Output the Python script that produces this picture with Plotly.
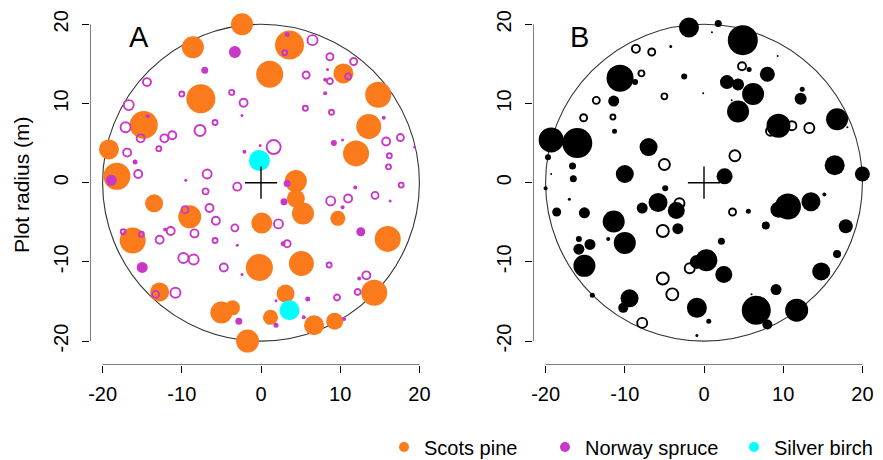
import plotly.graph_objects as go

W, H = 883, 460
FONT = "Liberation Sans, Arial, sans-serif"

# ---------------- Panel A ----------------
# Scots pine (filled, orange): x, y, marker diameter (px)
pine_x = [-2.4, -8.6, 1.1, -7.6, -14.8, -19.2, -18.2, 3.6, 10.4, 14.8, 13.6, 12.0, 4.4,
          -13.5, -9.0, -16.2, 0.1, -0.2, -12.8, -5.0, -3.6, -1.7, 4.4, 5.3, 9.7, 16.0,
          5.1, 3.1, 14.3, 1.2, 6.7, 9.3]
pine_y = [20.0, 17.1, 13.7, 10.6, 7.3, 4.2, 0.8, 17.4, 13.8, 11.1, 7.1, 3.7, 0.2,
          -2.6, -4.3, -7.3, -5.1, -10.7, -13.8, -16.4, -15.8, -20.0, -2.0, -3.9, -4.5, -7.1,
          -10.2, -14.0, -13.9, -17.0, -18.0, -17.5]
pine_d = [22, 22, 27, 29, 28, 20, 27, 29, 20, 26, 25, 26, 22,
          18, 23, 26, 21, 27, 19, 22, 15, 23, 18, 22, 15, 26,
          25, 18, 26, 15, 20, 17]

# Norway spruce, living (filled, magenta)
spruce_x = [-3.3, -7.1, -14.3, -18.9, -15.9, -2.4, -2.1, -9.5, -0.1,
            3.3, 8.4, 8.1, 8.1, 15.5, 9.2, 10.3, 19.4, 3.3, 11.9,
            -15.0, -2.8, -3.0, -2.4, -12.1,
            2.9, 12.6, 10.3, 16.3, 2.8, 12.4, 5.9, 1.9, 5.4, 1.9, 10.5]
spruce_y = [16.5, 14.2, 8.4, 0.3, 2.6, 8.5, 3.9, 0.3, 4.7,
            18.7, 14.3, 13.0, 11.3, 8.2, 5.0, 5.4, 4.5, -0.1, -0.6,
            -10.7, -17.5, -7.9, -11.6, -5.9,
            -2.4, -6.2, -3.1, -2.3, -7.7, -12.1, -14.7, -14.9, -17.0, -18.0, -17.2]
spruce_d = [12, 7, 4, 11, 5, 3, 4, 3, 3,
            5, 3, 4, 4, 4, 6, 3, 3, 7, 4,
            11, 7, 3, 3, 4,
            7, 9, 4, 3, 5, 4, 5, 3, 4, 5, 4]

# Norway spruce, dead (open, magenta)
spruce_dead_x = [-14.4, -10.0, -3.7, -2.2, -16.7, -17.1, -15.2, -12.2, -11.2, -7.7, -5.8, -12.9,
                 -16.9, -15.5, -6.8, -3.0,
                 3.0, 6.5, 8.7, 11.7, 5.7, 8.7, 11.0, 5.6, 8.9, 1.6, 15.8, 17.6, 16.2, 16.1, 17.7,
                 -5.8, -17.4, -15.1, -7.0, -6.5, -9.6, -5.7, -8.4, -3.3, -11.4, -12.8, -9.8, -8.5,
                 -4.7, -13.3, -10.8,
                 2.2, 3.3, 8.8, 11.0, 14.4, 8.6, 13.3, 12.2, 9.6]
spruce_dead_y = [12.7, 11.2, 11.4, 10.1, 9.8, 7.0, 5.6, 5.6, 6.0, 6.6, 7.6, 4.3,
                 3.8, 1.1, 1.1, -0.5,
                 16.4, 18.0, 15.9, 15.3, 13.6, 12.8, 13.4, 9.4, 8.9, 4.5, 5.2, 5.7, 3.4, 2.0, -0.3,
                 -7.3, -6.2, -6.5, -1.1, -3.2, -3.4, -4.8, -6.4, -5.7, -6.1, -7.2, -9.5, -9.7,
                 -10.7, -14.1, -13.9,
                 -5.2, -7.7, -2.3, -2.0, -1.6, -10.4, -11.7, -13.8, -14.5]
spruce_dead_d = [8, 5, 5, 8, 10, 10, 8, 8, 8, 11, 5, 5,
                 8, 8, 9, 8,
                 5, 10, 7, 7, 7, 6, 6, 5, 5, 14, 8, 7, 5, 5, 5,
                 5, 5, 5, 6, 8, 7, 8, 8, 7, 8, 8, 10, 10,
                 8, 7, 10,
                 9, 7, 9, 8, 7, 5, 8, 6, 6]

# Silver birch (filled, cyan)
birch_x = [-0.2, 3.6]
birch_y = [2.8, -16.1]
birch_d = [21, 20]

# ---------------- Panel B ----------------
b_live_x = [-1.9, -10.6, -8.7, -11.4, -11.3, -19.3, -16.0, -7.0, -19.7, -16.6, -16.5, -10.0,
            -2.5, -4.2, -0.1, -19.3, -4.9, -20.0,
            1.8, 4.9, 1.0, 9.3, 5.7, 8.0, 2.9, 4.3, 6.2, 3.5, 12.4, 12.2, 4.3, 9.4, 16.8, 18.1,
            16.5, 20.0, 2.6,
            -17.0, -18.6, -15.1, -7.8, -5.8, -3.5, -3.3, -11.4, -10.0, -12.1, -15.8, -15.8,
            -14.4, -15.1, -14.1, -9.4, -10.2, -0.9, 0.3, -0.9, -0.9, 0.6,
            10.6, 9.4, 13.5, 15.2, 5.6, 7.8, 17.9, 2.2, 16.8, 2.5, 14.8, 9.1, 6.6, 8.0, 11.7, 6.0]
b_live_y = [19.6, 13.2, 12.7, 10.3, 6.5, 5.4, 5.0, 4.5, 3.2, 2.1, 0.5, 1.1,
            13.4, 17.2, 11.3, 1.1, -0.7, -0.7,
            20.1, 18.0, 19.0, 16.0, 14.3, 13.7, 12.7, 12.4, 11.2, 10.4, 11.8, 10.6, 9.0, 7.2, 8.0, 7.0,
            2.2, 1.1, 0.8,
            -2.1, -3.7, -3.8, -3.2, -2.5, -3.5, -5.8, -4.9, -7.6, -7.1, -7.1, -8.4,
            -7.8, -10.5, -14.2, -14.6, -15.8, -15.8, -9.8, -10.0, -19.3, -17.5,
            -3.0, -3.4, -2.4, -1.5, -3.6, -5.4, -5.5, -7.4, -9.0, -11.6, -11.2, -13.5, -16.1, -17.9, -16.1, -14.1]
b_live_d = [20, 27, 6, 11, 5, 25, 30, 18, 6, 7, 7, 18,
            6, 3, 2, 2, 6, 4,
            7, 30, 2, 2, 5, 15, 14, 12, 22, 2, 5, 12, 22, 24, 22, 2,
            20, 15, 16,
            3, 9, 11, 11, 19, 17, 11, 22, 22, 4, 6, 11,
            11, 22, 5, 18, 10, 20, 22, 14, 3, 5,
            26, 16, 19, 4, 5, 8, 14, 7, 8, 17, 18, 11, 29, 10, 23, 2]

b_dead_x = [-8.6, -6.6, -7.9, -13.6, -5.0, -15.2, -11.5, -5.0,
            4.8, 8.4, 11.1, 13.3, 3.9,
            -3.1, -5.2, -5.2, -4.0, -1.8, -7.8, 3.6]
b_dead_y = [16.9, 16.5, 13.8, 10.4, 10.9, 8.2, 8.3, 2.3,
            14.7, 6.5, 7.2, 6.9, 3.4,
            -2.6, -6.1, -12.1, -14.1, -10.8, -17.7, -3.7]
b_dead_d = [8, 7, 6, 7, 6, 7, 5, 11,
            8, 9, 9, 10, 11,
            10, 12, 12, 12, 10, 10, 7]

PLOT_RADIUS = 20
CENTER_X, CENTER_Y = [0], [0]
TICKS = [-20, -10, 0, 10, 20]
TICK_TEXT = ["-20", "-10", "0", "10", "20"]
panel_labels = ["A", "B"]
legend_names = ["Scots pine", "Norway spruce", "Silver birch"]

ORANGE = "#FA7A1C"
MAGENTA = "#C838C8"
CYAN = "#00FFFF"

# ---------------- layout geometry ----------------
SCALE = 7.92  # px per metre
AX_A = (90, 432)
AX_B = (533, 875)
Y_BOTTOM_PX = 364.5
half_x = (AX_A[1] - AX_A[0]) / 2 / SCALE
y_lo = -(Y_BOTTOM_PX - 182.7) / SCALE
y_hi = y_lo + Y_BOTTOM_PX / SCALE

fig = go.Figure()


def add_pts(xs, ys, ds, color, filled, xa, ya):
    if filled:
        marker = dict(size=ds, color=color, symbol="circle", opacity=1, line=dict(width=0))
    else:
        marker = dict(size=ds, color=color, symbol="circle-open", opacity=1,
                      line=dict(width=1.9, color=color))
    fig.add_trace(go.Scatter(x=xs, y=ys, mode="markers", xaxis=xa, yaxis=ya,
                             marker=marker, showlegend=False, cliponaxis=False,
                             hoverinfo="skip"))


# Panel A
add_pts(pine_x, pine_y, pine_d, ORANGE, True, "x", "y")
add_pts(spruce_dead_x, spruce_dead_y, spruce_dead_d, MAGENTA, False, "x", "y")
add_pts(spruce_x, spruce_y, spruce_d, MAGENTA, True, "x", "y")
add_pts(birch_x, birch_y, birch_d, CYAN, True, "x", "y")
# Panel B
add_pts(b_dead_x, b_dead_y, b_dead_d, "black", False, "x2", "y2")
add_pts(b_live_x, b_live_y, b_live_d, "black", True, "x2", "y2")

# centre crosses
for xa, ya in (("x", "y"), ("x2", "y2")):
    fig.add_trace(go.Scatter(x=CENTER_X, y=CENTER_Y, mode="markers", xaxis=xa, yaxis=ya,
                             marker=dict(symbol="cross-thin", size=23,
                                         line=dict(width=1.4, color="black")),
                             showlegend=False, hoverinfo="skip", cliponaxis=False))

# legend-only entries
for name, col, lg in zip(legend_names, [ORANGE, MAGENTA, CYAN], ["legend", "legend2", "legend3"]):
    fig.add_trace(go.Scatter(x=[None], y=[None], mode="markers", name=name,
                             marker=dict(size=10, color=col), legend=lg, showlegend=True))

axis_common = dict(tickvals=TICKS, ticktext=TICK_TEXT, ticks="outside", ticklen=7, tickwidth=1,
                   tickcolor="black", showgrid=False, zeroline=False, showline=False,
                   automargin=False,
                   tickfont=dict(family=FONT, size=20, color="black"))

fig.update_layout(
    width=W, height=H, margin=dict(l=0, r=0, t=0, b=0, autoexpand=False),
    paper_bgcolor="white", plot_bgcolor="rgba(0,0,0,0)",
    xaxis=dict(domain=[AX_A[0] / W, AX_A[1] / W], range=[-half_x, half_x], anchor="y",
               ticklabelstandoff=4, **axis_common),
    yaxis=dict(domain=[1 - Y_BOTTOM_PX / H, 1], range=[y_lo, y_hi], anchor="x",
               tickangle=-90, ticklabelstandoff=6, **axis_common),
    xaxis2=dict(domain=[AX_B[0] / W, AX_B[1] / W], range=[-half_x, half_x], anchor="y2",
                ticklabelstandoff=4, **axis_common),
    yaxis2=dict(domain=[1 - Y_BOTTOM_PX / H, 1], range=[y_lo, y_hi], anchor="x2",
                tickangle=-90, ticklabelstandoff=6, **axis_common),
    showlegend=True,
)

legend_common = dict(orientation="h", yanchor="middle", xanchor="left", y=1 - 447 / H,
                     font=dict(family=FONT, size=20, color="black"),
                     bgcolor="rgba(0,0,0,0)", borderwidth=0)
fig.update_layout(legend=dict(x=384 / W, **legend_common),
                  legend2=dict(x=545 / W, **legend_common),
                  legend3=dict(x=734 / W, **legend_common))

shapes = []
for xr, yr in (("x", "y"), ("x2", "y2")):
    shapes.append(dict(type="circle", xref=xr, yref=yr, x0=-PLOT_RADIUS, x1=PLOT_RADIUS,
                       y0=-PLOT_RADIUS, y1=PLOT_RADIUS, line=dict(color="#333333", width=1.1),
                       layer="below"))
    shapes.append(dict(type="line", xref=xr, yref=yr, x0=TICKS[0], x1=TICKS[-1],
                       y0=y_lo, y1=y_lo, line=dict(color="black", width=1)))
    shapes.append(dict(type="line", xref=xr, yref=yr, x0=-half_x, x1=-half_x,
                       y0=TICKS[0], y1=TICKS[-1], line=dict(color="black", width=1)))
fig.update_layout(shapes=shapes)

annotations = [
    dict(text="Plot radius (m)", xref="paper", yref="paper", x=21 / W, y=1 - 185 / H,
         showarrow=False, textangle=-90, font=dict(family=FONT, size=21, color="black"),
         xanchor="center", yanchor="middle"),
]
for lab, px in zip(panel_labels, [139.3, 579.3]):
    annotations.append(dict(text=lab, xref="paper", yref="paper", x=px / W, y=1 - 37 / H,
                            showarrow=False, font=dict(family=FONT, size=29, color="black"),
                            xanchor="center", yanchor="middle"))
fig.update_layout(annotations=annotations)

fig.write_html("out.html")
